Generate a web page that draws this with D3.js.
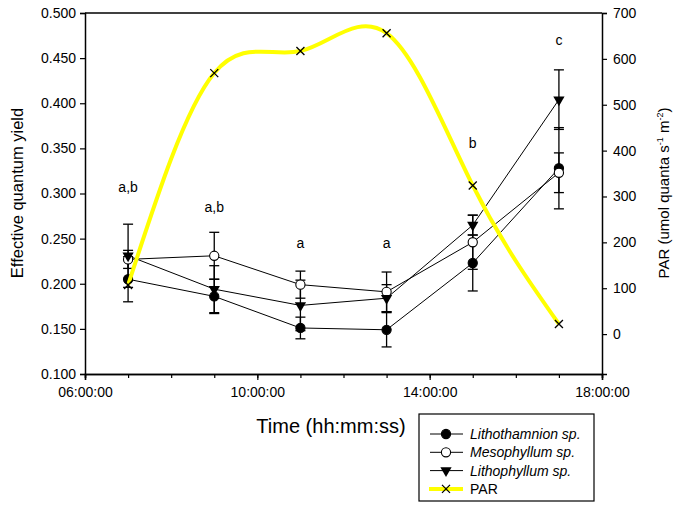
<!DOCTYPE html>
<html>
<head>
<meta charset="utf-8">
<script src="https://cdn.jsdelivr.net/npm/d3@7"></script>
<style>
  body { margin: 0; background: #fff; }
  svg { font-family: 'Liberation Sans', Arial, sans-serif; }
</style>
</head>
<body>
<svg id="chart"></svg>
<script>
// sampling hours
const hours = [7, 9, 11, 13, 15, 17]

// effective quantum yield (mean and error)
const lithothamnion = [0.205, 0.186, 0.151, 0.149, 0.223, 0.328]
const lithothamnionErr = [0.025, 0.019, 0.012, 0.019, 0.031, 0.045]
const mesophyllum = [0.227, 0.231, 0.199, 0.191, 0.246, 0.323]
const mesophyllumErr = [0.010, 0.026, 0.015, 0.022, 0.030, 0.022]
const lithophyllum = [0.231, 0.194, 0.176, 0.184, 0.265, 0.404]
const lithophyllumErr = [0.035, 0.026, 0.028, 0.015, 0.011, 0.033]

// PAR (umol quanta s-1 m-2)
const par = [107, 569, 617, 656, 324, 22]

// significance letters
const letters = ['a,b', 'a,b', 'a', 'a', 'b', 'c']
const letterY = [0.302, 0.280, 0.240, 0.240, 0.350, 0.465]

const xTicks = [6, 10, 14, 18]
const yTicks = [0.1, 0.15, 0.2, 0.25, 0.3, 0.35, 0.4, 0.45, 0.5]
const parTicks = [0, 100, 200, 300, 400, 500, 600, 700]

const w = 675
const h = 506
const mLeft = 85
const mRight = 602
const mTop = 13
const mBottom = 374

const svg = d3.select('#chart').attr('width', w).attr('height', h)

const xScale = d3.scaleLinear().domain([6, 18]).range([mLeft, mRight])
const yScale = d3.scaleLinear().domain([0.1, 0.5]).range([mBottom, mTop])
const parScale = d3.scaleLinear().domain([-87, 700]).range([mBottom, mTop])

const pad = n => String(n).padStart(2, '0') + ':00:00'

// axes
const xAxis = d3.axisBottom(xScale).tickValues(xTicks).tickFormat(pad).tickSize(6).tickPadding(7)
const xMinor = d3.axisBottom(xScale).tickValues(d3.range(6, 19)).tickFormat('').tickSize(4)
svg.append('g').attr('transform', `translate(0,${mBottom})`).call(xMinor)
svg.append('g').attr('transform', `translate(0,${mBottom})`).call(xAxis)

const yAxis = d3.axisLeft(yScale).tickValues(yTicks).tickFormat(d3.format('.3f')).tickSize(5).tickPadding(4)
svg.append('g').attr('transform', `translate(${mLeft},0)`).call(yAxis)

const parAxis = d3.axisRight(parScale).tickValues(parTicks).tickSize(5).tickPadding(6)
svg.append('g').attr('transform', `translate(${mRight},0)`).call(parAxis)

svg.selectAll('.domain').attr('stroke', '#000').attr('stroke-width', 1.5)
svg.selectAll('.tick line').attr('stroke', '#000').attr('stroke-width', 1.2)
svg.selectAll('.tick text').attr('font-size', 14).attr('fill', '#000')
  .attr('font-family', "'Liberation Sans', Arial, sans-serif")

// top frame line
svg.append('line')
  .attr('x1', mLeft).attr('x2', mRight).attr('y1', mTop).attr('y2', mTop)
  .attr('stroke', '#000').attr('stroke-width', 1.5)

// axis titles
svg.append('text')
  .attr('transform', `translate(23,193) rotate(-90)`)
  .attr('text-anchor', 'middle').attr('font-size', 16.5)
  .text('Effective quantum yield')

const parTitle = svg.append('text')
  .attr('transform', `translate(669,193) rotate(-90)`)
  .attr('text-anchor', 'middle').attr('font-size', 15)
parTitle.append('tspan').text('PAR (umol quanta s')
parTitle.append('tspan').attr('dy', -6).attr('font-size', 9).text('-1')
parTitle.append('tspan').attr('dy', 6).text(' m')
parTitle.append('tspan').attr('dy', -6).attr('font-size', 9).text('-2')
parTitle.append('tspan').attr('dy', 6).text(')')

svg.append('text')
  .attr('x', 331).attr('y', 433)
  .attr('text-anchor', 'middle').attr('font-size', 20)
  .text('Time (hh:mm:ss)')

// series
const series = [
  { name: 'Lithothamnion sp.', values: lithothamnion, err: lithothamnionErr, marker: 'filled' },
  { name: 'Mesophyllum sp.', values: mesophyllum, err: mesophyllumErr, marker: 'open' },
  { name: 'Lithophyllum sp.', values: lithophyllum, err: lithophyllumErr, marker: 'triangle' }
]

const line = d3.line().x(d => xScale(d[0])).y(d => yScale(d[1]))
const triangle = d3.symbol().type(d3.symbolTriangle).size(55)

function drawMarker(g, type, x, y) {
  if (type === 'triangle') {
    g.append('path').attr('d', triangle())
      .attr('transform', `translate(${x},${y}) rotate(180)`)
      .attr('fill', '#000')
  } else {
    g.append('circle').attr('cx', x).attr('cy', y).attr('r', 4.6)
      .attr('fill', type === 'filled' ? '#000' : '#fff')
      .attr('stroke', '#000').attr('stroke-width', 1.1)
  }
}

// error bars
series.forEach(s => {
  const g = svg.append('g').attr('stroke', '#000').attr('stroke-width', 1.3)
  hours.forEach((hr, i) => {
    const x = xScale(hr)
    const y1 = yScale(s.values[i] + s.err[i])
    const y2 = yScale(s.values[i] - s.err[i])
    g.append('line').attr('x1', x).attr('x2', x).attr('y1', y1).attr('y2', y2)
    g.append('line').attr('x1', x - 5).attr('x2', x + 5).attr('y1', y1).attr('y2', y1)
    g.append('line').attr('x1', x - 5).attr('x2', x + 5).attr('y1', y2).attr('y2', y2)
  })
})

// lines
series.forEach(s => {
  svg.append('path')
    .datum(hours.map((hr, i) => [hr, s.values[i]]))
    .attr('d', line)
    .attr('fill', 'none').attr('stroke', '#000').attr('stroke-width', 1)
})

// markers
series.forEach(s => {
  const g = svg.append('g')
  hours.forEach((hr, i) => drawMarker(g, s.marker, xScale(hr), yScale(s.values[i])))
})

// letters
svg.selectAll('.letter')
  .data(letters)
  .enter()
  .append('text')
  .attr('x', (d, i) => xScale(hours[i]))
  .attr('y', (d, i) => yScale(letterY[i]))
  .attr('text-anchor', 'middle').attr('font-size', 14)
  .text(d => d)

// PAR curve
const parLine = d3.line().curve(d3.curveNatural)
  .x(d => xScale(d[0])).y(d => parScale(d[1]))
svg.append('path')
  .datum(hours.map((hr, i) => [hr, par[i]]))
  .attr('d', parLine)
  .attr('fill', 'none').attr('stroke', '#ffff00').attr('stroke-width', 4)

function drawX(g, x, y) {
  g.append('path')
    .attr('d', `M${x - 4},${y - 4}L${x + 4},${y + 4}M${x - 4},${y + 4}L${x + 4},${y - 4}`)
    .attr('stroke', '#000').attr('stroke-width', 1.3)
}
const parMarks = svg.append('g')
hours.forEach((hr, i) => drawX(parMarks, xScale(hr), parScale(par[i])))

// legend
const legend = svg.append('g')
legend.append('rect')
  .attr('x', 419).attr('y', 414).attr('width', 175).attr('height', 87)
  .attr('fill', '#fff').attr('stroke', '#000').attr('stroke-width', 1.2)

const legendItems = series.map(s => ({ name: s.name, marker: s.marker, italic: true }))
legendItems.push({ name: 'PAR', marker: 'x', italic: false })

legendItems.forEach((d, i) => {
  const y = 434 + i * 18.3
  if (d.marker === 'x') {
    legend.append('line').attr('x1', 429).attr('x2', 463).attr('y1', y).attr('y2', y)
      .attr('stroke', '#ffff00').attr('stroke-width', 4)
    drawX(legend, 446, y)
  } else {
    legend.append('line').attr('x1', 430).attr('x2', 463).attr('y1', y).attr('y2', y)
      .attr('stroke', '#000').attr('stroke-width', 1)
    drawMarker(legend, d.marker, 446, y)
  }
  legend.append('text')
    .attr('x', 470).attr('y', y + 5)
    .attr('font-size', 14)
    .attr('font-style', d.italic ? 'italic' : 'normal')
    .text(d.name)
})
</script>
</body>
</html>
